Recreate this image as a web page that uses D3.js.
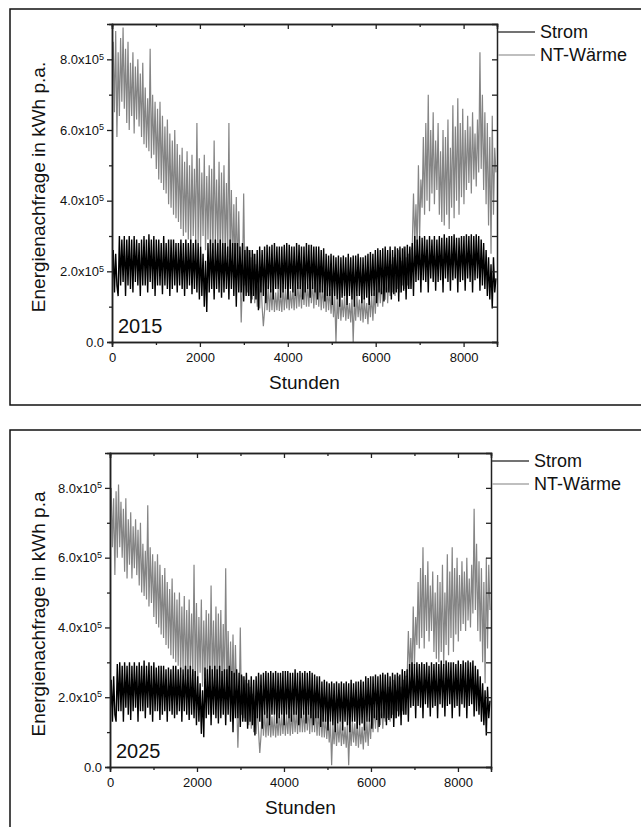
<!DOCTYPE html>
<html>
<head>
<meta charset="utf-8">
<script src="https://cdn.jsdelivr.net/npm/d3@7"></script>
<style>
  body { margin: 0; background: #fff; }
  text { font-family: "Liberation Sans", Arial, sans-serif; fill: #111; }
</style>
</head>
<body>
<svg id="chart" width="641" height="827"></svg>
<script>
// hours between two stored samples (values are in units of 10^5 kWh)
const STEP = 28;
const xTicks = [0, 2000, 4000, 6000, 8000];
const xMinor = [1000, 3000, 5000, 7000];
const yTicks = [0, 2, 4, 6, 8];
const yMinor = [1, 3, 5, 7];
const seriesNames = ["Strom", "NT-Wärme"];

const strom2015 = [
  1.5,2.6,1.4,2.5,1.6,1.3, 3.0,1.6,2.9,1.7,3.0,1.3,
  2.9,1.6,3.0,1.5,2.9,1.4, 3.0,1.7,2.9,1.6,2.8,1.3,
  2.9,1.6,3.0,1.6,2.9,1.4, 3.05,1.7,2.9,1.5,3.0,1.3,
  2.9,1.6,2.9,1.6,2.8,1.35, 3.0,1.6,2.8,1.5,2.9,1.3,
  2.9,1.5,2.9,1.6,2.8,1.4, 2.8,1.6,2.9,1.5,2.8,1.3,
  2.9,1.5,2.8,1.6,2.9,1.35, 2.8,1.5,2.9,1.4,2.8,1.2,
  2.7,1.3,2.5,1.0,2.3,0.85, 2.8,1.4,2.9,1.5,2.8,1.2,
  2.9,1.5,2.8,1.4,2.9,1.25, 2.8,1.4,2.8,1.5,2.7,1.2,
  2.9,1.5,2.8,1.3,2.8,1.0, 2.8,1.4,2.7,1.4,2.8,1.15,
  2.6,1.3,2.7,1.3,2.6,1.1, 2.6,1.3,2.5,1.2,2.6,0.9,
  2.7,1.4,2.6,1.3,2.7,1.1, 2.75,1.5,2.7,1.4,2.75,1.2,
  2.8,1.5,2.7,1.5,2.7,1.25, 2.7,1.4,2.75,1.5,2.8,1.2,
  2.75,1.5,2.7,1.4,2.7,1.3, 2.8,1.5,2.75,1.5,2.7,1.2,
  2.7,1.4,2.8,1.5,2.75,1.25, 2.75,1.5,2.7,1.4,2.7,1.2,
  2.7,1.4,2.6,1.4,2.65,1.15, 2.5,1.3,2.45,1.3,2.5,1.05,
  2.45,1.3,2.4,1.2,2.45,1.0, 2.4,1.25,2.45,1.3,2.4,1.05,
  2.5,1.3,2.4,1.2,2.45,1.0, 2.45,1.3,2.5,1.3,2.4,1.1,
  2.4,1.2,2.45,1.25,2.5,1.05, 2.55,1.3,2.5,1.3,2.6,1.1,
  2.65,1.4,2.6,1.35,2.65,1.15, 2.7,1.4,2.6,1.4,2.7,1.2,
  2.6,1.35,2.7,1.4,2.65,1.15, 2.7,1.4,2.65,1.45,2.7,1.2,
  2.75,1.5,2.7,1.5,2.8,1.3, 3.0,1.7,2.9,1.75,3.0,1.4,
  2.95,1.75,3.0,1.7,2.9,1.4, 3.0,1.8,2.9,1.7,3.0,1.45,
  2.9,1.7,3.0,1.75,2.95,1.4, 3.05,1.8,2.95,1.7,3.0,1.45,
  3.0,1.75,3.05,1.8,2.95,1.4, 2.95,1.7,3.0,1.75,3.0,1.45,
  3.05,1.8,3.0,1.7,3.05,1.4, 3.0,1.75,3.05,1.8,3.0,1.45,
  2.9,1.6,2.8,1.5,2.6,1.3, 2.4,1.2,2.2,0.95,2.4,1.4,
  1.8
];

const waerme2015 = [
  7.5,8.5,6.5,8.8,5.8,8.2,6.4,8.6,6.8,8.9,
  6.6,8.3,6.2,8.5,6.0,7.9,6.4,8.2,5.9,7.8,
  6.3,8.0,6.1,7.6,5.8,7.9,5.6,7.2,5.5,6.9,
  5.4,8.3,5.2,7.0,5.3,6.8,4.9,6.6,4.6,6.8,
  4.5,6.4,4.3,6.1,4.2,6.3,3.9,5.9,3.8,5.7,
  3.6,6.0,3.5,5.6,3.4,5.3,3.2,5.5,3.0,5.1,
  3.1,5.4,2.9,5.0,2.8,5.3,3.0,4.9,2.9,6.2,
  2.8,5.2,2.7,4.8,3.0,5.3,2.6,4.7,2.9,5.0,
  2.7,4.9,2.5,5.7,2.8,4.6,2.6,5.1,2.4,4.8,
  2.6,5.0,2.5,4.5,2.4,6.2,2.3,4.3,2.2,3.9,
  2.0,4.1,1.9,3.7,2.1,0.55,1.8,4.2,1.6,2.7,
  1.4,2.6,1.3,2.4,1.2,2.5,1.1,2.2,1.0,2.0,
  0.95,1.9,1.0,0.45,0.9,1.8,0.9,1.6,0.85,1.5,
  0.9,1.6,0.85,1.4,0.9,1.5,0.88,1.4,0.85,1.6,
  0.9,1.5,0.95,1.6,0.9,1.45,0.95,1.55,0.9,1.6,
  0.95,1.7,1.0,1.6,0.95,1.8,1.05,1.7,1.0,1.65,
  1.0,1.8,1.1,1.7,0.95,1.75,1.05,1.9,1.0,1.7,
  0.9,1.6,0.95,1.7,0.85,1.55,0.9,1.5,0.8,1.4,
  0.7,1.3,0.0,1.2,0.65,1.35,0.6,1.2,0.7,1.3,
  0.6,1.25,0.65,1.1,0.55,1.3,0.0,1.2,0.6,1.35,
  0.7,1.2,0.6,1.3,0.55,1.25,0.65,1.1,0.5,1.3,
  0.7,1.35,0.6,1.4,0.8,1.7,1.0,1.8,1.1,1.9,
  1.0,1.75,1.2,2.0,1.1,1.9,1.3,2.2,1.4,2.4,
  1.3,2.1,1.5,2.6,1.4,2.3,1.6,2.7,1.5,2.4,
  1.6,2.5,1.5,2.6,2.7,4.2,2.8,3.9,2.6,5.0,
  3.0,4.6,3.8,5.8,3.6,6.2,4.0,7.0,3.7,6.0,
  4.2,6.5,3.9,5.7,4.3,6.2,3.6,5.4,3.4,6.0,
  3.3,5.8,3.6,6.3,3.2,5.5,3.8,6.7,3.5,6.1,
  4.0,6.9,3.6,6.2,4.1,6.6,3.9,6.0,4.3,6.4,
  4.5,6.1,4.2,6.5,4.6,5.9,4.4,6.3,4.8,8.2,
  4.9,7.0,4.3,6.5,3.9,6.2,3.3,5.8,2.5,6.4,
  3.6,5.5,4.8
];

const strom2025 = [
  1.4,2.5,1.3,2.6,1.5,1.3, 2.95,1.6,3.0,1.6,2.9,1.3,
  3.0,1.7,2.9,1.5,3.0,1.35, 2.9,1.6,3.0,1.7,2.9,1.3,
  3.0,1.6,2.9,1.6,3.05,1.4, 2.9,1.7,3.0,1.5,2.9,1.3,
  3.0,1.6,2.85,1.6,2.9,1.35, 2.9,1.5,2.9,1.6,2.8,1.3,
  2.85,1.6,2.8,1.5,2.9,1.4, 2.9,1.5,2.8,1.6,2.85,1.3,
  2.8,1.6,2.9,1.5,2.8,1.35, 2.9,1.5,2.8,1.4,2.75,1.2,
  2.6,1.3,2.4,0.95,2.2,0.85, 2.85,1.4,2.8,1.5,2.9,1.2,
  2.8,1.5,2.9,1.4,2.8,1.25, 2.9,1.4,2.75,1.5,2.8,1.2,
  2.8,1.5,2.9,1.3,2.75,1.0, 2.7,1.4,2.8,1.4,2.7,1.15,
  2.65,1.3,2.6,1.3,2.7,1.1, 2.5,1.3,2.6,1.2,2.5,0.9,
  2.6,1.4,2.7,1.3,2.65,1.1, 2.7,1.5,2.75,1.4,2.7,1.2,
  2.75,1.5,2.7,1.5,2.75,1.25, 2.7,1.4,2.7,1.5,2.75,1.2,
  2.75,1.5,2.75,1.4,2.7,1.3, 2.7,1.5,2.8,1.5,2.7,1.2,
  2.75,1.4,2.7,1.5,2.75,1.25, 2.7,1.5,2.75,1.4,2.7,1.2,
  2.65,1.4,2.6,1.4,2.6,1.15, 2.45,1.3,2.5,1.3,2.45,1.05,
  2.4,1.3,2.45,1.2,2.4,1.0, 2.45,1.25,2.4,1.3,2.45,1.05,
  2.4,1.3,2.45,1.2,2.4,1.0, 2.5,1.3,2.4,1.3,2.45,1.1,
  2.45,1.2,2.5,1.25,2.45,1.05, 2.6,1.3,2.55,1.3,2.6,1.1,
  2.6,1.4,2.65,1.35,2.6,1.15, 2.65,1.4,2.7,1.4,2.65,1.2,
  2.7,1.35,2.6,1.4,2.7,1.15, 2.65,1.4,2.7,1.45,2.65,1.2,
  2.8,1.5,2.75,1.5,2.8,1.3, 2.95,1.7,3.0,1.75,2.95,1.4,
  3.0,1.75,2.95,1.7,3.0,1.4, 2.95,1.8,3.0,1.7,2.9,1.45,
  3.0,1.7,2.95,1.75,3.0,1.4, 2.95,1.8,3.05,1.7,2.95,1.45,
  3.05,1.75,3.0,1.8,3.0,1.4, 3.0,1.7,2.95,1.75,3.05,1.45,
  2.95,1.8,3.05,1.7,3.0,1.4, 3.05,1.75,3.0,1.8,3.05,1.45,
  2.9,1.6,2.8,1.5,2.6,1.3, 2.4,1.2,2.2,0.9,2.3,1.4,
  1.9
];

const waerme2025 = [
  7.0,8.0,6.3,7.7,5.5,7.9,6.0,8.1,6.3,7.6,
  6.0,7.4,5.6,7.7,5.4,7.1,5.8,7.3,5.4,6.9,
  5.7,7.1,5.5,6.8,5.2,7.0,5.0,6.4,4.9,6.2,
  4.8,7.5,4.6,6.3,4.7,6.1,4.3,5.9,4.1,6.1,
  4.0,5.8,3.8,5.5,3.7,5.7,3.5,5.3,3.4,5.1,
  3.2,5.4,3.1,5.0,3.0,4.8,2.9,5.0,2.7,4.6,
  2.8,4.9,2.6,4.5,2.5,4.8,2.7,4.4,2.6,5.8,
  2.5,4.7,2.4,4.3,2.7,4.8,2.3,4.2,2.6,4.5,
  2.4,4.4,2.3,5.2,2.5,4.2,2.4,4.6,2.2,4.4,
  2.4,4.5,2.3,4.1,2.2,5.7,2.1,3.9,2.0,3.6,
  1.9,3.8,1.8,3.5,2.0,0.55,1.7,4.0,1.5,2.6,
  1.4,2.5,1.3,2.4,1.2,2.3,1.1,2.1,1.0,1.9,
  0.95,1.8,1.0,0.4,0.9,1.7,0.9,1.6,0.85,1.5,
  0.9,1.55,0.85,1.45,0.9,1.5,0.85,1.4,0.9,1.55,
  0.9,1.5,0.95,1.55,0.9,1.5,0.95,1.6,0.9,1.55,
  0.95,1.65,1.0,1.6,0.95,1.75,1.0,1.7,1.0,1.6,
  1.0,1.75,1.05,1.7,0.95,1.8,1.0,1.85,1.0,1.7,
  0.9,1.6,0.9,1.65,0.85,1.5,0.85,1.45,0.8,1.4,
  0.7,1.3,0.05,1.2,0.65,1.3,0.6,1.25,0.7,1.3,
  0.6,1.2,0.65,1.15,0.55,1.3,0.05,1.2,0.6,1.3,
  0.7,1.25,0.6,1.3,0.55,1.2,0.65,1.15,0.5,1.3,
  0.7,1.3,0.6,1.4,0.8,1.65,1.0,1.75,1.1,1.85,
  1.0,1.7,1.2,1.95,1.1,1.85,1.3,2.1,1.4,2.3,
  1.3,2.0,1.5,2.5,1.4,2.2,1.6,2.6,1.5,2.3,
  1.6,2.5,1.5,2.6,2.6,3.9,2.7,3.7,2.5,4.6,
  2.9,4.3,3.5,5.3,3.4,5.7,3.7,6.3,3.4,5.5,
  3.9,5.9,3.6,5.2,3.9,5.6,3.3,5.0,3.1,5.5,
  3.0,5.3,3.3,5.8,2.9,5.0,3.5,6.1,3.2,5.6,
  3.7,6.3,3.3,5.7,3.8,6.0,3.6,5.5,3.9,5.9,
  4.1,5.6,3.9,6.0,4.2,5.4,4.0,5.8,4.4,7.4,
  4.5,6.4,3.9,5.9,3.6,5.7,3.0,5.3,2.4,6.0,
  3.4,5.8,4.5
];

const panels = [
  { year: "2015", strom: strom2015, waerme: waerme2015, ylabel: "Energienachfrage in kWh p.a.",
    box: { x: 10, y: 9, h: 396 }, plot: { l: 112, r: 497, t: 24, b: 342 } },
  { year: "2025", strom: strom2025, waerme: waerme2025, ylabel: "Energienachfrage in kWh p.a",
    box: { x: 10, y: 430, h: 420 }, plot: { l: 110, r: 491, t: 453, b: 767 } }
];

const svg = d3.select("#chart");
svg.append("rect").attr("width", 641).attr("height", 827).attr("fill", "#fff");

panels.forEach((p, k) => {
  const g = svg.append("g");

  // outer frame of the panel
  g.append("rect")
    .attr("x", p.box.x).attr("y", p.box.y)
    .attr("width", 700).attr("height", p.box.h)
    .attr("fill", "none").attr("stroke", "#111").attr("stroke-width", 1.5);

  const x = d3.scaleLinear().domain([0, 8760]).range([p.plot.l, p.plot.r]);
  const y = d3.scaleLinear().domain([0, 9]).range([p.plot.b, p.plot.t]);

  g.append("clipPath").attr("id", "clip" + k)
    .append("rect")
    .attr("x", p.plot.l).attr("y", p.plot.t)
    .attr("width", p.plot.r - p.plot.l).attr("height", p.plot.b - p.plot.t);

  const line = d3.line()
    .x((d, i) => x(i * STEP))
    .y(d => y(d));

  // heat first, electricity on top
  const lines = g.append("g").attr("clip-path", "url(#clip" + k + ")");
  lines.append("path").datum(p.waerme)
    .attr("d", line).attr("fill", "none")
    .attr("stroke", "#858585").attr("stroke-width", 1.2);
  lines.append("path").datum(p.strom)
    .attr("d", line).attr("fill", "none")
    .attr("stroke", "#000").attr("stroke-width", 1.4);

  // axes
  const styleAxis = sel => {
    sel.selectAll("path").attr("stroke", "#222").attr("stroke-width", 1.5);
    sel.selectAll("line").attr("stroke", "#222").attr("stroke-width", 1.3);
  };

  const xb = g.append("g").attr("transform", `translate(0,${p.plot.b})`)
    .call(d3.axisBottom(x).tickValues(xTicks).tickSize(5).tickPadding(6).tickFormat(d3.format("d")))
    .call(styleAxis);
  xb.selectAll("text").attr("font-size", 13).attr("fill", "#111")
    .attr("font-family", "'Liberation Sans', Arial, sans-serif");
  g.append("g").attr("transform", `translate(0,${p.plot.b})`)
    .call(d3.axisBottom(x).tickValues(xMinor).tickSize(3).tickFormat(""))
    .call(styleAxis);

  g.append("g").attr("transform", `translate(0,${p.plot.t})`)
    .call(d3.axisTop(x).tickValues(xTicks).tickSize(-5).tickFormat(""))
    .call(styleAxis);
  g.append("g").attr("transform", `translate(0,${p.plot.t})`)
    .call(d3.axisTop(x).tickValues(xMinor).tickSize(-3).tickFormat(""))
    .call(styleAxis);

  const yl = g.append("g").attr("transform", `translate(${p.plot.l},0)`)
    .call(d3.axisLeft(y).tickValues(yTicks).tickSize(5).tickPadding(3))
    .call(styleAxis);
  yl.selectAll(".tick text").each(function (d) {
    const t = d3.select(this).text(null)
      .attr("font-size", 13).attr("fill", "#111")
      .attr("font-family", "'Liberation Sans', Arial, sans-serif");
    if (d === 0) { t.text("0.0"); return; }
    t.append("tspan").text(d3.format(".1f")(d) + "x10");
    t.append("tspan").attr("dy", "-0.5em").attr("font-size", 9).text("5");
  });
  g.append("g").attr("transform", `translate(${p.plot.l},0)`)
    .call(d3.axisLeft(y).tickValues(yMinor).tickSize(3).tickFormat(""))
    .call(styleAxis);

  g.append("g").attr("transform", `translate(${p.plot.r},0)`)
    .call(d3.axisRight(y).tickValues(yTicks.concat(yMinor)).tickSize(-5).tickFormat(""))
    .call(styleAxis);

  // year tag
  g.append("text").attr("x", p.plot.l + 6).attr("y", p.plot.b - 9)
    .attr("font-size", 20).text(p.year);

  // axis titles
  g.append("text")
    .attr("x", (p.plot.l + p.plot.r) / 2).attr("y", p.plot.b + 47)
    .attr("text-anchor", "middle").attr("font-size", 19)
    .text("Stunden");
  g.append("text")
    .attr("transform", `translate(45,${(p.plot.t + p.plot.b) / 2 + 4}) rotate(-90)`)
    .attr("text-anchor", "middle").attr("font-size", 19)
    .text(p.ylabel);

  // legend
  const legColors = ["#444", "#aaa"];
  seriesNames.forEach((name, j) => {
    const ly = p.plot.t + 8 + j * 23;
    g.append("line")
      .attr("x1", p.plot.r + 1).attr("x2", p.plot.r + 38)
      .attr("y1", ly).attr("y2", ly)
      .attr("stroke", legColors[j]).attr("stroke-width", 1.5);
    g.append("text")
      .attr("x", p.plot.r + 43).attr("y", ly + 6)
      .attr("font-size", 18).text(name);
  });
});
</script>
</body>
</html>
